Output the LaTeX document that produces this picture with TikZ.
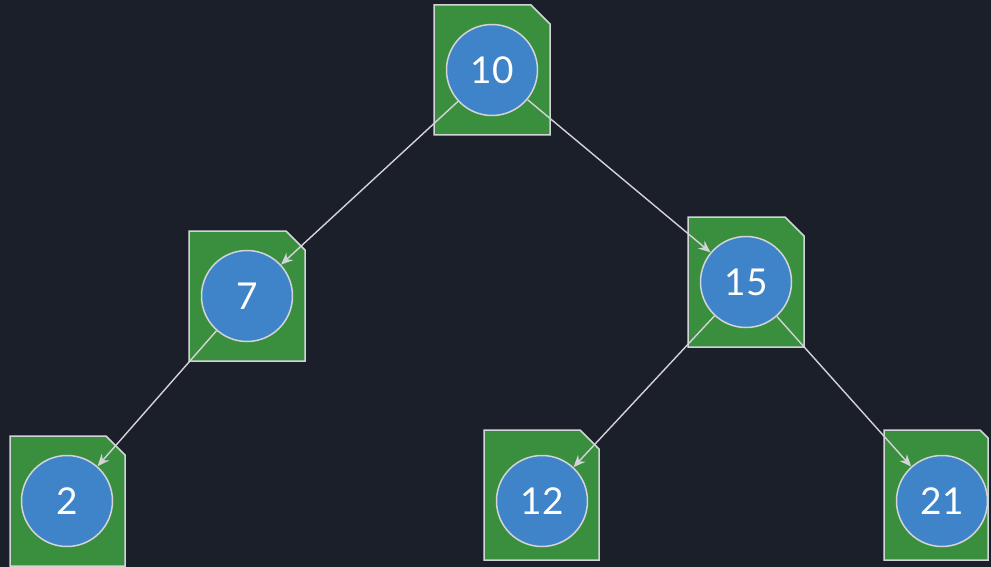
\documentclass[tikz,border=0pt]{standalone}
\usepackage{fontspec}
\setmainfont{Lato}
\usetikzlibrary{arrows.meta}
\definecolor{bgdark}{HTML}{1B1F2A}
\definecolor{notegreen}{HTML}{3A8F3E}
\definecolor{keyblue}{HTML}{3F84C8}
\definecolor{edgegray}{HTML}{D2D4D8}
\newcommand\notepanel[5]{\draw[notebox] (#1,#3) -- (#2-#5,#3) -- (#2,#3+#5) -- (#2,#4) -- (#1,#4) -- cycle;}
\begin{document}
\begin{tikzpicture}[x=1pt,y=-1pt,
  notebox/.style={fill=notegreen, draw=edgegray, line width=1.5pt, line join=miter},
  keynode/.style={circle, fill=keyblue, draw=edgegray, line width=1.5pt, minimum size=91pt, inner sep=0pt, text=white, font=\fontsize{37}{40}\selectfont},
  link/.style={draw=edgegray, line width=1.4pt, -{Stealth[length=12pt,width=10pt]}}]
\fill[bgdark] (0,0) rectangle (991,567);
\useasboundingbox (0,0) rectangle (991,567);
% note panels
\notepanel{434}{550}{5}{135}{19}
\notepanel{189}{305}{231}{361}{19}
\notepanel{688}{804}{217}{347}{19}
\notepanel{10}{125}{436}{566}{19}
\notepanel{484}{599}{430}{560}{19}
\notepanel{884}{988}{430}{560}{8}
% keys
\node[keynode] (n10) at (492,70) {10};
\node[keynode] (n7) at (247,296) {7};
\node[keynode] (n15) at (746,282) {15};
\node[keynode] (n2) at (67,501) {2};
\node[keynode] (n12) at (542,501) {12};
\node[keynode] (n21) at (942,501) {21};
% links
\draw[link] (n10) -- (n7);
\draw[link] (n10) -- (n15);
\draw[link] (n7) -- (n2);
\draw[link] (n15) -- (n12);
\draw[link] (n15) -- (n21);
\end{tikzpicture}
\end{document}
